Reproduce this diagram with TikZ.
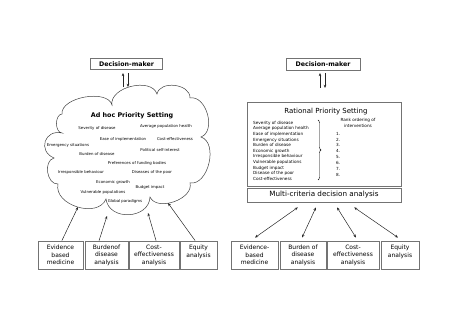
\documentclass[tikz,border=0pt]{standalone}
\usepackage{fontspec}
\setmainfont{DejaVu Sans}
\usetikzlibrary{arrows.meta,calc,decorations.pathreplacing}
\begin{document}
\begin{tikzpicture}[x=1pt,y=1pt,
  box/.style={draw=black!55, line width=0.8pt, inner sep=0pt, align=center},
  dmbox/.style={box, minimum width=72pt, minimum height=11.5pt, font=\fontsize{6.3}{7}\selectfont\bfseries},
  srcbox/.style={box, minimum height=28pt, font=\fontsize{6}{7.5}\selectfont},
  item/.style={font=\fontsize{3.9}{4.5}\selectfont, inner sep=0pt},
  listfont/.style={font=\fontsize{4.2}{5.6}\selectfont, inner sep=0pt},
  conn/.style={draw=black!85, line width=0.5pt},
  tip/.style={-{Stealth[length=3.2pt,width=2.6pt]}},
  bitip/.style={{Stealth[length=3.2pt,width=2.6pt]}-{Stealth[length=3.2pt,width=2.6pt]}},
  cloudline/.style={draw=black!75, line width=0.5pt}
]
\useasboundingbox (0,0) rectangle (474,334);

% ---------------- Left: ad hoc ----------------
\node[dmbox] (dmL) at (126.5,270) {Decision-maker};
\coordinate (luA) at (123,247);
\coordinate (luB) at (123,261);
\coordinate (ldA) at (128,261);
\coordinate (ldB) at (128,247);
\draw[conn,tip] (luA) -- (luB);
\draw[conn,tip] (ldA) -- (ldB);

% cloud outline
\coordinate (cA) at (62,220);
\coordinate (cB) at (112,229);
\coordinate (cC) at (157,240);
\coordinate (cD) at (190,236);
\coordinate (cE) at (201,197);
\coordinate (cF) at (190,151);
\coordinate (cG) at (150,137);
\coordinate (cH) at (106,135);
\coordinate (cI) at (58,150);
\coordinate (cJ) at (54,176);
\coordinate (cK) at (62,201);
\draw[cloudline]
  (cA) to[bend left=85, looseness=0.85] (cB)
       to[bend left=85, looseness=1.0] (cC)
       to[bend left=85, looseness=1.1] (cD)
       to[bend left=85, looseness=1.05] (cE)
       to[bend left=85, looseness=1.0] (cF)
       to[bend left=85, looseness=1.0] (cG)
       to[bend left=85, looseness=1.3] (cH)
       to[bend left=85, looseness=1.1] (cI)
       to[bend left=85, looseness=1.1] (cJ)
       to[bend left=85, looseness=1.75] (cK)
       to[bend left=85, looseness=1.0] (cA);

\node[font=\fontsize{6.4}{7}\selectfont\bfseries, inner sep=0pt] (adhoc) at (132,218) {Ad hoc Priority Setting};
\node[item] (i1) at (97,206) {Severity of disease};
\node[item] (i2) at (166,208) {Average population health};
\node[item] (i3) at (123,195) {Ease of implementation};
\node[item] (i4) at (175,195) {Cost-effectiveness};
\node[item] (i5) at (68,189) {Emergency situations};
\node[item] (i6) at (160,184) {Political self-interest};
\node[item] (i7) at (97,180) {Burden of disease};
\node[item] (i8) at (137,171) {Preferences of funding bodies};
\node[item] (i9) at (81,162) {Irresponsible behaviour};
\node[item] (i10) at (152,162) {Diseases of the poor};
\node[item] (i11) at (113,152) {Economic growth};
\node[item] (i12) at (150,147) {Budget impact};
\node[item] (i13) at (103,142) {Vulnerable populations};
\node[item] (i14) at (125,133) {Global paradigms};

% source boxes left
\node[srcbox, minimum width=45pt] (b1) at (60.5,79) {Evidence\\based\\medicine};
\node[srcbox, minimum width=43pt] (b2) at (106.5,79) {Burdenof\\disease\\analysis};
\node[srcbox, minimum width=50pt] (b3) at (154,79) {Cost-\\effectiveness\\analysis};
\node[srcbox, minimum width=37pt] (b4) at (198.5,79) {Equity\\analysis\\~};

\coordinate (t1) at (78,127);
\coordinate (t2) at (107,118);
\coordinate (t3) at (148,121);
\coordinate (t4) at (168,131);
\draw[conn,tip] ($(b1.north west)!0.53!(b1.north east)$) -- (t1);
\draw[conn,tip] ($(b2.north west)!0.33!(b2.north east)$) -- (t2);
\draw[conn,tip] ($(b3.north west)!0.54!(b3.north east)$) -- (t3);
\draw[conn,tip] ($(b4.north west)!0.41!(b4.north east)$) -- (t4);

% ---------------- Right: rational ----------------
\node[dmbox, minimum width=74pt] (dmR) at (323,269.5) {Decision-maker};
\coordinate (ruA) at (320,246);
\coordinate (ruB) at (320,261);
\coordinate (rdA) at (325,261);
\coordinate (rdB) at (325,246);
\draw[conn,tip] (ruA) -- (ruB);
\draw[conn,tip] (rdA) -- (rdB);

\node[box, minimum width=154pt, minimum height=84pt] (rps) at (324,190) {};
\node[font=\fontsize{7}{8}\selectfont, inner sep=0pt] (rpst) at (326,222) {Rational Priority Setting};
\node[listfont, anchor=north west, align=left] (crit) at (253,213) {Severity of disease\\Average population health\\Ease of implementation\\Emergency situations\\Burden of disease\\Economic growth\\Irresponsible behaviour\\Vulnerable populations\\Budget impact\\Disease of the poor\\Cost-effectiveness};
\coordinate (brT) at (318,214);
\coordinate (brB) at (318,154);
\draw[line width=0.4pt, decorate, decoration={brace, amplitude=3pt}] (brT) -- (brB);
\node[listfont, align=center] (rank) at (358,211) {Rank ordering of\\interventions};
\node[font=\fontsize{4.2}{5.86}\selectfont, inner sep=0pt, anchor=north west, align=left] (ranks) at (336,202) {1.\\2.\\3.\\4.\\5.\\6.\\7.\\8.};

\node[box, minimum width=154pt, minimum height=14pt, font=\fontsize{7.2}{8}\selectfont] (mcda) at (324,139) {Multi-criteria decision analysis};

\node[srcbox, minimum width=47pt] (r1) at (254.5,79) {Evidence-\\based\\medicine};
\node[srcbox, minimum width=46pt] (r2) at (303,79) {Burden of\\disease\\analysis};
\node[srcbox, minimum width=52pt] (r3) at (353,79) {Cost-\\effectiveness\\analysis};
\node[srcbox, minimum width=38pt] (r4) at (400,79) {Equity\\analysis\\~};

\draw[conn,bitip] ($(mcda.south west)!0.331!(mcda.south east)+(0,-5)$) -- ($(r1.north)+(0.5,3)$);
\draw[conn,bitip] ($(mcda.south west)!0.448!(mcda.south east)+(0,-5)$) -- ($(r2.north)+(-1,3)$);
\draw[conn,bitip] ($(mcda.south west)!0.584!(mcda.south east)+(0,-5)$) -- ($(r3.north)+(3,3)$);
\draw[conn,bitip] ($(mcda.south west)!0.695!(mcda.south east)+(0,-5)$) -- ($(r4.north)+(-2,3)$);
\end{tikzpicture}
\end{document}
